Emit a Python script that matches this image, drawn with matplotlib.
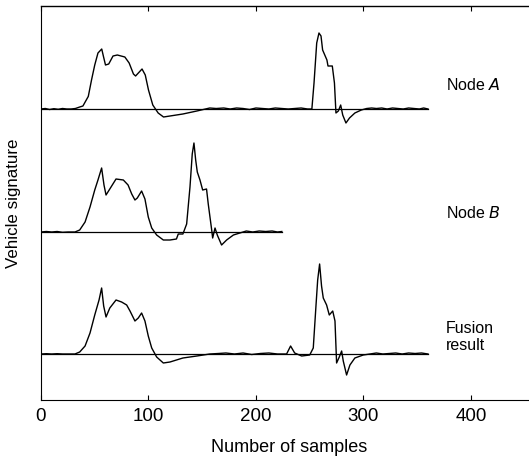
import matplotlib.pyplot as plt
import numpy as np

plt.rcParams['font.family'] = ['Liberation Sans', 'DejaVu Sans']

# ---------------- datos (muestras, amplitud relativa a la linea base) ----------------
sA = [0, 4, 8, 12, 16, 20, 24, 28, 32, 36, 39, 44, 47, 50, 53, 56.5, 58, 60, 63, 67, 71, 78, 82, 86, 88,
      94, 97, 100, 104, 109, 114, 120, 132, 145, 157, 163, 170, 176, 182, 188, 194, 200, 206, 212, 218,
      224, 230, 236, 242, 248, 252, 254, 256.5, 258.6, 260.5, 262, 266, 267, 271, 273, 274.4, 276.6,
      278.8, 280.7, 283.7, 287, 292, 298, 303, 307.6, 312, 317, 322, 327, 332, 337, 342, 347, 352, 356, 360]
yA = [0, 0.5, -0.5, 0.3, -0.3, 0.5, 0, 0, 0.5, 2, 3, 12.6, 29, 44, 56, 60, 53, 44, 45, 53, 54, 52, 46, 35, 33,
      40, 34, 19, 4, -4, -8, -7, -5, -2, 1, 0.5, 1, 0, 1, 0.5, -0.5, 1, 0.5, 0, 1, 0.5, 0, 0.5, 1, 0, 0,
      26, 66, 76, 73, 59, 49, 43, 43, 26, -4, -2, 4, -6, -14, -9, -4, -1, 0.5, 1, 0.5, 1, 0, 1, 0.5, 0, 1,
      0.5, 0, 1, 0]

sB = [0, 5, 10, 15, 20, 25, 31.6, 36, 41, 45.6, 50, 53, 56.4, 58.6, 60.5, 64, 69.8, 76.6, 81, 84.4, 87.4,
      89.6, 93.6, 96.7, 99.8, 103, 107.6, 113.8, 120, 126, 127.7, 132, 135.5, 138.6, 140.7, 142.3, 143.9,
      145.4, 147.9, 150.4, 154, 155.6, 158.8, 159.7, 161.9, 164, 168, 172.7, 179, 185, 191, 197, 203, 209,
      215, 220, 224]
yB = [0, 0.5, 0, 0.5, -0.3, 0, 0, 2, 10, 25, 42, 52, 64, 47, 37, 43, 53, 52, 47, 38, 32,
      34, 41, 33, 15, 4, -3, -8, -8, -7, -2, -2, 8, 45, 78, 89, 72,
      60, 52, 42, 43, 28, 2, -6, 4, -3, -13, -8, -3, -1, 1, 0, 1, 0.5, 1, 0, 0.5]

sF = [0, 5, 10, 15, 20, 25, 31.6, 36, 41, 45.6, 50, 54, 56.4, 58.3, 60.5, 64, 69.8, 75, 79.7, 82.8, 87.4,
      90.5, 93.6, 96.7, 99.8, 103, 107.6, 113.8, 120, 132, 145, 157, 165, 172, 180, 188, 196, 204, 212,
      220, 228.5, 232.2, 236, 242.5, 250, 253.3, 255.8, 257.4, 259.2, 261, 262.6, 265.7, 268.2, 271.4,
      273.5, 275, 277.5, 279.7, 281.2, 284.3, 287.4, 292, 299.8, 306, 312, 318, 324, 330, 336, 342, 348,
      354, 360]
yF = [0, 0.3, 0, 0.3, 0, 0, 0, 2, 8, 21, 39, 54, 66, 48, 37, 46, 54, 52, 49, 43, 33,
      36, 41, 33, 18, 6, -3, -9, -8, -4, -2, 0, 0.5, 1, 0, 1, -0.5, 0.5, 1, 0, 0, 8, 1, -2, -1, 6, 48, 74,
      90, 68, 56, 49, 39, 43, 33, -9, -3, 3, -7, -21, -11, -4, -1, 0, 1, 0, 0.5, 1, 0, 1, 0.5, 1, 0]

bases = [291, 168, 46]          # posicion vertical de cada linea base
fines = [360, 224, 360]         # muestra donde termina cada linea base
etiquetas = ['Node $\\mathit{A}$', 'Node $\\mathit{B}$', 'Fusion\nresult']
etq_y = [315, 187, 63]

fig = plt.figure(figsize=(5.29, 4.58), dpi=100)
ax = fig.add_axes([41/529, 1-400/458, 1-41/529, 394/458])

for (s, y), b, fin, lab, ly in zip([(sA, yA), (sB, yB), (sF, yF)], bases, fines, etiquetas, etq_y):
    ax.plot([0, fin], [b, b], color='black', lw=0.9)
    ax.plot(s, np.array(y) + b, color='black', lw=1.0)
    ax.text(377, ly, lab, fontsize=11.5, va='center', ha='left',
            family=['Liberation Sans', 'DejaVu Sans'])

ax.set_xlim(0, 454)
ax.set_ylim(0, 394)
ax.set_xticks([0, 100, 200, 300, 400])
ax.set_yticks([])
ax.tick_params(axis='x', direction='in', top=True, length=3.5, labelsize=13.5, pad=6)
ax.spines['right'].set_visible(False)
ax.spines['top'].set_visible(True)
ax.spines['top'].set_linewidth(1.0)
ax.set_xlabel('Number of samples', fontsize=13)
ax.xaxis.set_label_coords(231/454, -0.1)
ax.set_ylabel('Vehicle signature', fontsize=12.2)
ax.yaxis.set_label_coords(-0.041, 0.5)

plt.savefig('out.png', dpi=100)
